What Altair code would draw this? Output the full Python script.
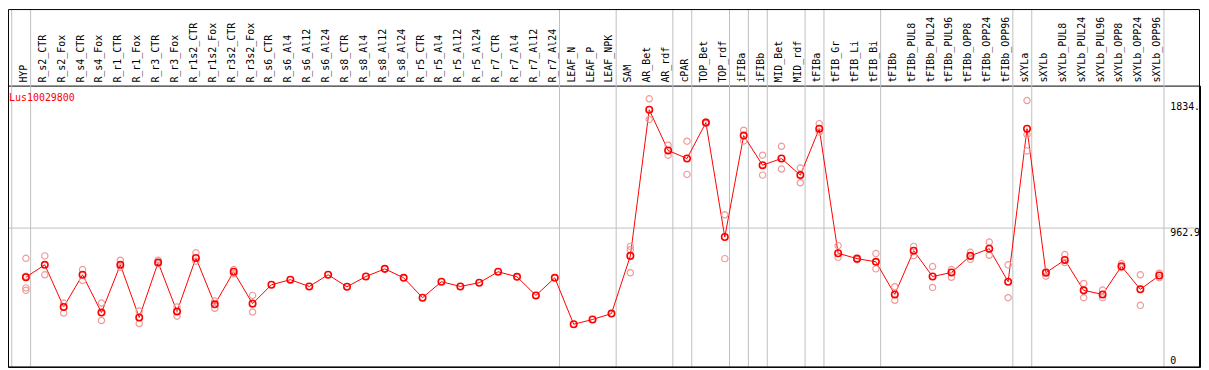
import altair as alt
import pandas as pd

gene = "Lus10029800"

samples = [
    "HYP", "R_s2_CTR", "R_s2_Fox", "R_s4_CTR", "R_s4_Fox", "R_r1_CTR", "R_r1_Fox",
    "R_r3_CTR", "R_r3_Fox", "R_r1s2_CTR", "R_r1s2_Fox", "R_r3s2_CTR", "R_r3s2_Fox",
    "R_s6_CTR", "R_s6_Al4", "R_s6_Al12", "R_s6_Al24", "R_s8_CTR", "R_s8_Al4",
    "R_s8_Al12", "R_s8_Al24", "R_r5_CTR", "R_r5_Al4", "R_r5_Al12", "R_r5_Al24",
    "R_r7_CTR", "R_r7_Al4", "R_r7_Al12", "R_r7_Al24", "LEAF_N", "LEAF_P", "LEAF_NPK",
    "SAM", "AR_Bet", "AR_rdf", "cPAR", "TOP_Bet", "TOP_rdf", "iFIBa", "iFIBb",
    "MID_Bet", "MID_rdf", "tFIBa", "tFIB_Gr", "tFIB_Li", "tFIB_Bi", "tFIBb",
    "tFIBb_PUL8", "tFIBb_PUL24", "tFIBb_PUL96", "tFIBb_OPP8", "tFIBb_OPP24",
    "tFIBb_OPP96", "sXYLa", "sXYLb", "sXYLb_PUL8", "sXYLb_PUL24", "sXYLb_PUL96",
    "sXYLb_OPP8", "sXYLb_OPP24", "sXYLb_OPP96",
]

means = [
    622, 708, 416, 639, 377, 708, 343, 724, 384, 756, 434, 660, 439,
    570, 605, 558, 639, 556, 627, 680, 618, 480, 591, 558, 584, 660, 625, 496, 618,
    296, 329, 370,
    770, 1783, 1501, 1445, 1694, 901, 1604, 1399, 1445, 1330, 1652,
    788, 751, 729, 503, 806, 627, 655, 770, 820, 591,
    1652, 653, 742, 531, 503, 698, 538, 634,
]

replicates = [
    [753, 629, 548, 531], [770, 639], [443, 374], [675, 600], [443, 322],
    [740, 691], [388, 301], [740, 715], [416, 352], [791, 733], [457, 407],
    [675, 646], [496, 381],
    [], [], [], [], [], [], [], [], [], [], [], [], [], [], [], [],
    [], [], [],
    [836, 813, 653], [1859, 1716], [1537, 1468], [1565, 1335], [1698, 1687],
    [1055, 751], [1641, 1567], [1468, 1330], [1530, 1372], [1379, 1277],
    [1687, 1629], [841, 760], [744], [786, 680], [556, 462], [836, 772],
    [696, 551], [675, 622], [795, 746], [866, 774], [708, 480],
    [1847, 1611, 1498], [629, 662], [779, 724], [579, 480], [533, 480],
    [717, 689], [639, 427], [650, 618],
]

# index of the last sample of each group (separator drawn just after it)
group_ends = [-1, 0, 28, 31, 34, 35, 37, 38, 39, 41, 42, 45, 52, 53, 60]

y_ticks = [1834.0, 962.9, 0.0]
y_tick_labels = ["1834.", "962.9", "0"]
y_tick_baselines = ["top", "top", "bottom"]

W, H = 1199, 283
FONT = "DejaVu Sans Mono"
RED = "#ff0000"
PINK = "#f09a9a"
GRAY = "#c0c0c0"

mean_df = pd.DataFrame({"idx": list(range(len(samples))), "sample": samples, "value": means})
rep_rows = []
for i, reps in enumerate(replicates):
    for v in reps:
        rep_rows.append({"idx": i, "sample": samples[i], "value": v})
rep_df = pd.DataFrame(rep_rows)
sep_df = pd.DataFrame({"pos": [g + 0.25 for g in group_ends]})
ytick_df = pd.DataFrame({"value": y_ticks, "label": y_tick_labels, "base": y_tick_baselines})

xs = alt.Scale(domain=[-18 / 19, -18 / 19 + W / 19], nice=False, zero=False)
ys = alt.Scale(domain=[0, 1950.6], nice=False, zero=False)

seps = alt.Chart(sep_df).mark_rule(color=GRAY, strokeWidth=1).encode(
    x=alt.X("pos:Q", scale=xs, axis=None),
    y=alt.value(-77),
    y2=alt.value(H),
)

hgrid = alt.Chart(pd.DataFrame({"value": [962.9]})).mark_rule(color=GRAY, strokeWidth=1).encode(
    y=alt.Y("value:Q", scale=ys, axis=None),
    x=alt.value(0),
    x2=alt.value(W),
)

labels = alt.Chart(mean_df).mark_text(
    angle=270, align="left", baseline="middle", font=FONT, fontSize=10, color="black", dy=-2
).encode(
    x=alt.X("idx:Q", scale=xs, axis=None),
    y=alt.value(-3),
    text="sample:N",
)

line = alt.Chart(mean_df).mark_line(color=RED, strokeWidth=1).encode(
    x=alt.X("idx:Q", scale=xs, axis=None),
    y=alt.Y("value:Q", scale=ys, axis=None),
    order="idx:Q",
)

rep_pts = alt.Chart(rep_df).mark_point(
    shape="circle", filled=False, color=PINK, size=40, strokeWidth=1.2, opacity=1
).encode(
    x=alt.X("idx:Q", scale=xs, axis=None),
    y=alt.Y("value:Q", scale=ys, axis=None),
)

mean_pts = alt.Chart(mean_df).mark_point(
    shape="circle", filled=False, color=RED, size=42, strokeWidth=1.6, opacity=1
).encode(
    x=alt.X("idx:Q", scale=xs, axis=None),
    y=alt.Y("value:Q", scale=ys, axis=None),
)

ylab_top = alt.Chart(ytick_df).transform_filter("datum.base == 'top'").mark_text(
    align="left", baseline="top", font=FONT, fontSize=10, color="black"
).encode(
    x=alt.value(1169),
    y=alt.Y("value:Q", scale=ys, axis=None),
    text="label:N",
)
ylab_bot = alt.Chart(ytick_df).transform_filter("datum.base == 'bottom'").mark_text(
    align="left", baseline="bottom", font=FONT, fontSize=10, color="black", dy=-1
).encode(
    x=alt.value(1169),
    y=alt.Y("value:Q", scale=ys, axis=None),
    text="label:N",
)

title = alt.Chart(pd.DataFrame({"t": [gene]})).mark_text(
    align="left", baseline="top", font=FONT, fontSize=10, color=RED
).encode(x=alt.value(1), y=alt.value(7), text="t:N")

frame = alt.Chart(pd.DataFrame({"t": [gene]})).mark_rect(
    filled=False, stroke="black", strokeWidth=1
).encode(x=alt.value(0.5), x2=alt.value(W - 0.5), y=alt.value(-76.5), y2=alt.value(H))

chart = alt.layer(
    seps, hgrid, labels, line, rep_pts, mean_pts, ylab_top, ylab_bot, title, frame
).properties(
    width=W, height=H,
    autosize=alt.AutoSizeParams(type="none"),
    padding={"left": 0, "top": 77, "right": 1, "bottom": 1},
    background="white",
).configure_view(stroke="black", strokeWidth=1)

chart.save("out.html", embed_options={"renderer": "svg", "actions": False})
